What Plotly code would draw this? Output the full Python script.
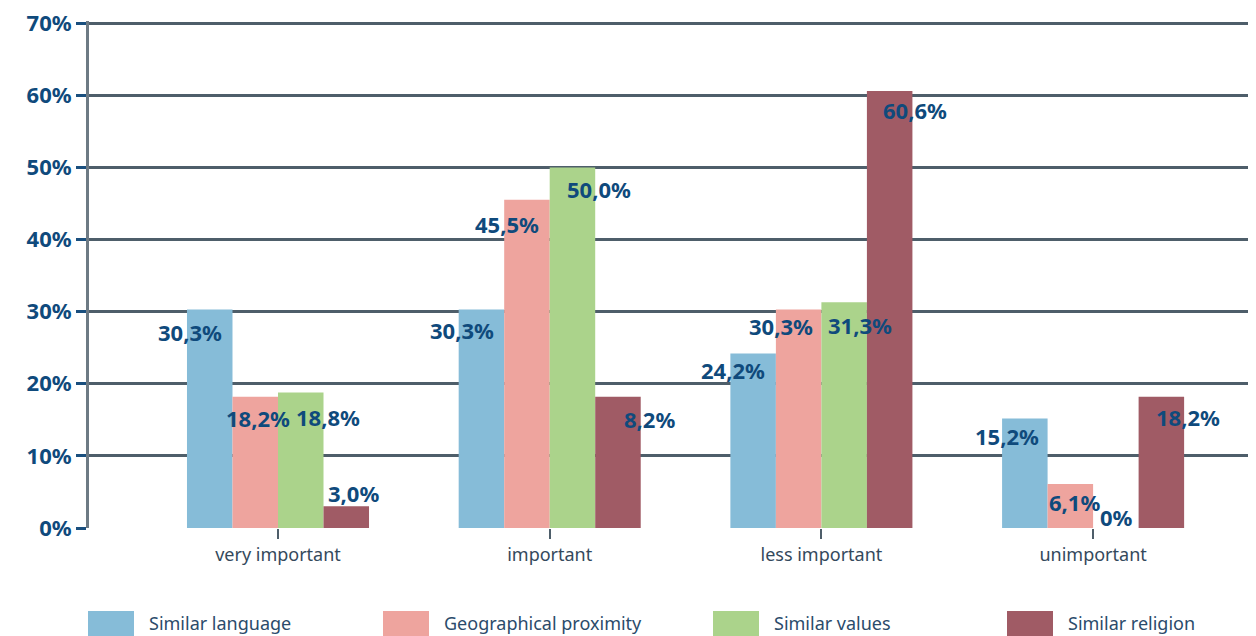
import plotly.graph_objects as go

# data
categories = ["very important", "important", "less important", "unimportant"]
series = ["Similar language", "Geographical proximity", "Similar values", "Similar religion"]
similar_language = [30.3, 30.3, 24.2, 15.2]
geo_proximity = [18.2, 45.5, 30.3, 6.1]
similar_values = [18.8, 50.0, 31.3, 0.0]
similar_religion = [3.0, 18.2, 60.6, 18.2]
label_text = [
    ["30,3%", "30,3%", "24,2%", "15,2%"],
    ["18,2%", "45,5%", "30,3%", "6,1%"],
    ["18,8%", "50,0%", "31,3%", "0%"],
    ["3,0%", "8,2%", "60,6%", "18,2%"],
]
y_ticks = [0, 10, 20, 30, 40, 50, 60, 70]

values = [similar_language, geo_proximity, similar_values, similar_religion]
colors = ["#86bcd8", "#eea49e", "#abd38b", "#a05b65"]

# label nudges in px (the labels in the original sit off-centre)
label_dx = [
    [-20, -19, -20, -18],
    [3, -20, -18, 4],
    [27, 27, 16, 1],
    [7, 32, 25, 27],
]
label_dy = [
    [-23, -21, -17, -18],
    [-21, -24, -17, -18],
    [-25, -22, -23, 11],
    [13, -22, -19, -20],
]

TXT = "#0f4a7c"
GRID = "#4e5e6a"
FONT = "Noto Sans"

# the page body has an 8px margin, so the figure is drawn 8px smaller
PAGE = 8
PX_PER_PCT = 505 / 70
Y_TOP = 70.3  # a hair above 70 so plotly keeps the top gridline
bar_w = 0.1675
x_idx = list(range(len(categories)))

fig = go.Figure()
for k, name in enumerate(series):
    fig.add_trace(go.Bar(
        x=x_idx, y=values[k], name=name, marker_color=colors[k],
        marker_line_width=0, width=bar_w, offset=(k - 2) * bar_w,
        showlegend=False, hoverinfo="skip",
    ))
    for i in x_idx:
        fig.add_annotation(
            x=i + (k - 1.5) * bar_w, y=values[k][i], xref="x", yref="y",
            text=label_text[k][i], showarrow=False,
            xshift=label_dx[k][i], yshift=label_dy[k][i],
            xanchor="center", yanchor="middle",
            font=dict(family=FONT, size=22, color=TXT, weight="bold"),
        )

# legend drawn by hand (wide swatches, cut at the bottom edge)
plot_h = Y_TOP * PX_PER_PCT
sw_x = [88, 383, 713, 1007]
for k, name in enumerate(series):
    x0 = sw_x[k]
    fig.add_shape(type="rect", xref="paper", yref="paper",
                  x0=(x0 - 89) / 1167, x1=(x0 + 46 - 89) / 1167,
                  y0=-(640 - 528) / plot_h, y1=-(611 - 528) / plot_h,
                  fillcolor=colors[k], line_width=0)
    fig.add_annotation(xref="paper", yref="paper",
                       x=(x0 + 59 - 89) / 1167, y=-(623 - 528) / plot_h,
                       text=name, showarrow=False, xanchor="left", yanchor="middle",
                       font=dict(family=FONT, size=18, color="#2b4b6b"))

fig.update_layout(
    width=1256 - PAGE, height=636 - PAGE,
    margin=dict(l=89 - PAGE, r=0, t=23 - PAGE - (Y_TOP - 70) * PX_PER_PCT, b=108),
    plot_bgcolor="white", paper_bgcolor="white",
    barmode="overlay",
    xaxis=dict(
        range=[-(278 - 89) / 271.7, (1256 - 278) / 271.7],
        tickvals=x_idx, ticktext=categories, automargin=False,
        ticks="outside", ticklen=10, tickwidth=2, tickcolor=GRID,
        showgrid=False, zeroline=False, showline=False,
        tickfont=dict(family=FONT, size=18, color="#34495c"),
    ),
    yaxis=dict(
        range=[0, Y_TOP], tickvals=y_ticks, ticktext=[f"{v}%" for v in y_ticks],
        automargin=False, ticklabeloverflow="allow",
        showgrid=True, gridcolor=GRID, gridwidth=3,
        zeroline=False, showline=True, linecolor="#6d7a84", linewidth=3,
        ticks="outside", ticklen=10, tickwidth=3, tickcolor="#1a4f7e",
        tickfont=dict(family=FONT, size=22, color=TXT, weight="bold"),
    ),
)

fig.write_html("out.html")
